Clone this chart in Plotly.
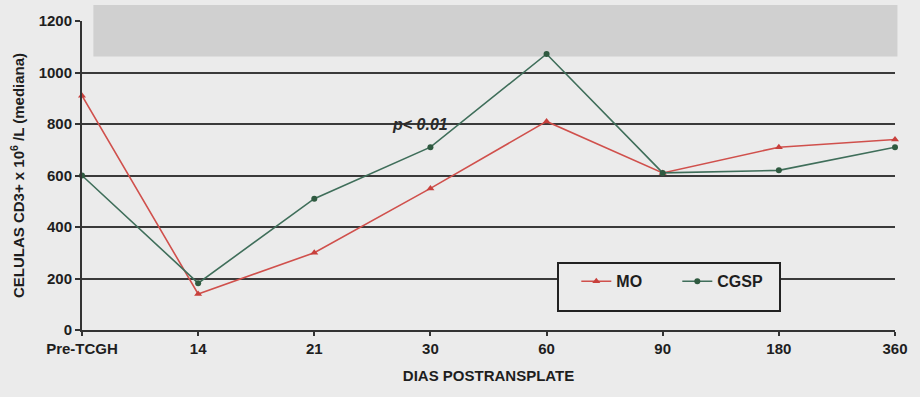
import plotly.graph_objects as go

categories = ["Pre-TCGH", "14", "21", "30", "60", "90", "180", "360"]
mo_values = [910, 140, 300, 550, 810, 610, 710, 740]
cgsp_values = [600, 182, 510, 710, 1072, 610, 620, 710]
y_ticks = [0, 200, 400, 600, 800, 1000, 1200]

x_pos = list(range(len(categories)))
FONT = "Liberation Sans, Arial, sans-serif"
BG = "#ebebeb"
TXT = "#1e1e1e"

fig = go.Figure()
fig.add_trace(go.Scatter(
    x=x_pos, y=mo_values, name="MO", mode="lines+markers",
    line=dict(color="#d0504c", width=1.6),
    marker=dict(symbol="triangle-up", size=7, color="#c8403c"),
    cliponaxis=False,
))
fig.add_trace(go.Scatter(
    x=x_pos, y=cgsp_values, name="CGSP", mode="lines+markers",
    line=dict(color="#3f6e5a", width=1.6),
    marker=dict(symbol="circle", size=6, color="#2f5a40"),
    cliponaxis=False,
))

# gray scanned band at top
fig.add_shape(type="rect", xref="paper", yref="paper",
              x0=0.014, x1=1.003, y0=0.885, y1=1.052,
              fillcolor="#d0d0d0", line=dict(width=0), layer="below")

fig.add_annotation(x=2.91, y=800, text="<b><i>p< 0.01</i></b>", showarrow=False,
                   font=dict(family=FONT, size=16, color="#2a2a2a"), yshift=0)

fig.update_layout(
    width=920, height=397,
    margin=dict(l=82, r=15, t=19, b=67),
    paper_bgcolor=BG, plot_bgcolor="rgba(0,0,0,0)",
    font=dict(family=FONT, size=12, color=TXT),
    showlegend=True,
    legend=dict(
        orientation="h", x=0.584, y=0.219, xanchor="left", yanchor="top",
        bgcolor=BG, bordercolor="#222222", borderwidth=2,
        font=dict(family=FONT, size=16, color=TXT, weight="bold"),
        itemwidth=30, entrywidth=56,
        title=dict(text="&nbsp;", side="left", font=dict(size=27, color=BG)),
    ),
    xaxis=dict(
        range=[0, 7], tickvals=x_pos, ticktext=["<b>%s</b>" % c for c in categories],
        showgrid=False, zeroline=False,
        showline=True, linecolor="#333333", linewidth=2,
        ticks="outside", ticklen=4, tickwidth=1.5, tickcolor="#333333",
        tickfont=dict(family=FONT, size=15, color=TXT),
        title=dict(text="<b>DIAS POSTRANSPLATE</b>",
                   font=dict(family=FONT, size=15, color=TXT, weight="bold"), standoff=14),
    ),
    yaxis=dict(
        range=[0, 1200], tickvals=y_ticks, ticktext=["<b>%d</b>" % v for v in y_ticks],
        showgrid=True, gridcolor="#3a3a3a", gridwidth=1.8, zeroline=False,
        showline=True, linecolor="#333333", linewidth=2,
        ticks="outside", ticklen=5, tickwidth=1.5, tickcolor="#333333",
        tickfont=dict(family=FONT, size=15, color=TXT),
        title=dict(text="<b>CELULAS CD3+ x 10</b><sup><b>6</b></sup><b> /L (mediana)</b>",
                   font=dict(family=FONT, size=15, color=TXT, weight="bold"), standoff=10),
    ),
)

fig.write_html("out.html", config={"displayModeBar": False},
               post_script="document.body.style.margin='0';document.body.style.background='%s';" % BG)
